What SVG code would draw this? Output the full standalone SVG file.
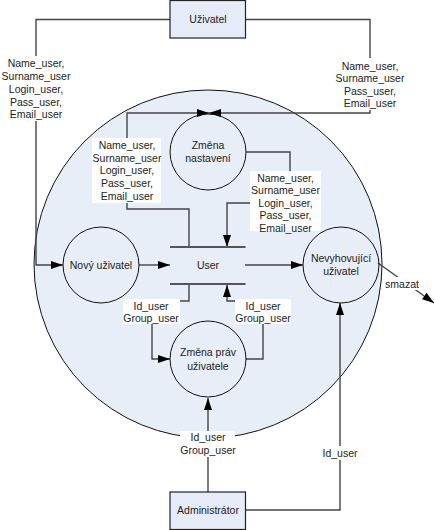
<svg xmlns="http://www.w3.org/2000/svg" width="435" height="530" viewBox="0 0 435 530">
<defs>
<marker id="ah" viewBox="0 0 12 8" refX="12" refY="4" markerWidth="12" markerHeight="8" markerUnits="userSpaceOnUse" orient="auto">
<path d="M0,0 L12,4 L0,8 Z" fill="#000"/>
</marker>
<style>
text{font-family:"Liberation Sans",Arial,sans-serif;font-size:10.5px;fill:#222;text-anchor:middle;dominant-baseline:central}
.flow{fill:none;stroke:#444;stroke-width:1.4}
.proc{fill:none;stroke:#111;stroke-width:1}
.ext{fill:#E6ECF7;stroke:#222;stroke-width:1.2}
.lbl{fill:#fff}
.store{stroke:#555;stroke-width:1.8}
</style>
</defs>
<rect width="435" height="530" fill="#fff"/>
<circle id="boundary" cx="208" cy="264" r="174" fill="#E8EEF8" stroke="#111" stroke-width="1"/>

<g id="connectors">
<path class="flow" d="M170,19.5 H36 V265 H63" marker-end="url(#ah)"/>
<path class="flow" d="M245,19.5 H370 V113 H209" marker-end="url(#ah)"/>
<path class="flow" d="M189,247 V209 H127 V113 H209" marker-end="url(#ah)"/>
<path class="flow" d="M246,152 H290 V203 H227 V247" marker-end="url(#ah)"/>
<path class="flow" d="M139,265 H170" marker-end="url(#ah)"/>
<path class="flow" d="M245,265 H303" marker-end="url(#ah)"/>
<path class="flow" d="M378,263 L434,303" marker-end="url(#ah)"/>
<path class="flow" d="M189,284 V301 H152 V359 H170" marker-end="url(#ah)"/>
<path class="flow" d="M246,359 H263 V301 H227 V285" marker-end="url(#ah)"/>
<path class="flow" d="M208,492 V398" marker-end="url(#ah)"/>
<path class="flow" d="M245,510 H340 V303" marker-end="url(#ah)"/>

<rect class="lbl" x="2" y="56" width="69" height="65"/>
<text x="36" y="63">Name_user,</text>
<text x="36" y="76">Surname_user</text>
<text x="36" y="88.5">Login_user,</text>
<text x="36" y="101.5">Pass_user,</text>
<text x="36" y="114">Email_user</text>

<rect class="lbl" x="334" y="58" width="72" height="52"/>
<text x="370" y="65.5">Name_user,</text>
<text x="370" y="78">Surname_user</text>
<text x="370" y="90.5">Pass_user,</text>
<text x="370" y="103">Email_user</text>

<rect class="lbl" x="92" y="138" width="69" height="65"/>
<text x="127" y="145">Name_user,</text>
<text x="127" y="157.7">Surname_user</text>
<text x="127" y="170.4">Login_user,</text>
<text x="127" y="183">Pass_user,</text>
<text x="127" y="195.5">Email_user</text>

<rect class="lbl" x="250" y="171" width="71" height="60"/>
<text x="285.5" y="177.5">Name_user,</text>
<text x="285.5" y="190">Surname_user</text>
<text x="285.5" y="202.7">Login_user,</text>
<text x="285.5" y="215.3">Pass_user,</text>
<text x="285.5" y="228">Email_user</text>

<rect class="lbl" x="386" y="277" width="33" height="13"/>
<text x="402" y="283.5">smazat</text>

<rect class="lbl" x="123" y="299" width="57" height="25"/>
<text x="151" y="305.5">Id_user</text>
<text x="151" y="318">Group_user</text>

<rect class="lbl" x="235" y="299" width="56" height="25"/>
<text x="263" y="305.5">Id_user</text>
<text x="263" y="318">Group_user</text>

<rect class="lbl" x="180" y="431" width="55" height="26"/>
<text x="208" y="437">Id_user</text>
<text x="208" y="450">Group_user</text>

<rect class="lbl" x="322" y="446" width="36" height="14"/>
<text x="340" y="453">Id_user</text>
</g>

<g id="uzivatel">
<rect class="ext" x="170" y="0.5" width="75.5" height="37.5"/>
<text x="208" y="19">Uživatel</text>
</g>
<g id="administrator">
<rect class="ext" x="170" y="492" width="75.5" height="37.5"/>
<text x="208" y="509.5">Administrátor</text>
</g>
<g id="zmena-nastaveni">
<circle class="proc" cx="208" cy="152" r="38"/>
<text x="208" y="145">Změna</text>
<text x="208" y="158">nastavení</text>
</g>
<g id="novy-uzivatel">
<circle class="proc" cx="101" cy="265" r="38"/>
<text x="101" y="265">Nový uživatel</text>
</g>
<g id="user-store">
<line class="store" x1="170" y1="247" x2="245.5" y2="247"/>
<line class="store" x1="170" y1="284" x2="245.5" y2="284"/>
<text x="208" y="265">User</text>
</g>
<g id="nevyhovujici">
<circle class="proc" cx="341" cy="265" r="38"/>
<text x="341" y="258">Nevyhovující</text>
<text x="341" y="271">uživatel</text>
</g>
<g id="zmena-prav">
<circle class="proc" cx="208" cy="359" r="38"/>
<text x="208" y="352">Změna práv</text>
<text x="208" y="366">uživatele</text>
</g>
</svg>
